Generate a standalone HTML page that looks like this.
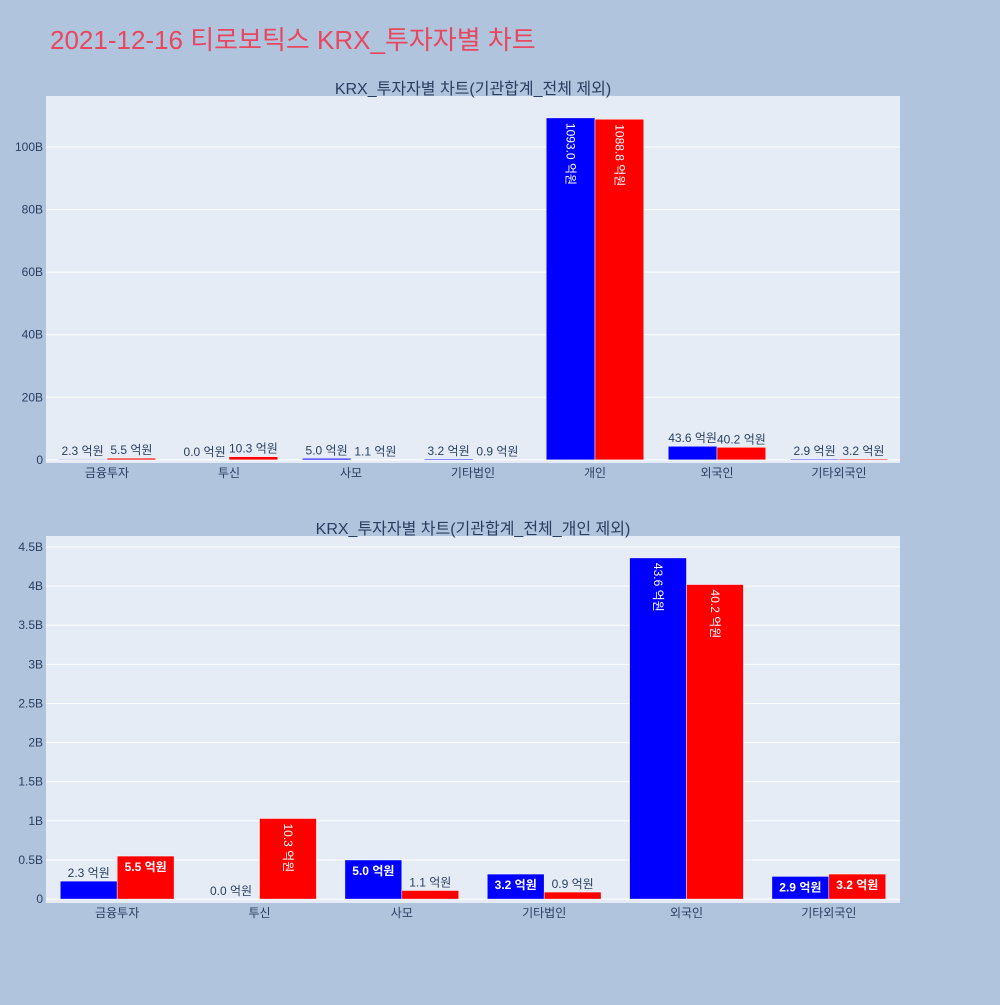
<!DOCTYPE html>
<html><head><meta charset="utf-8"><style>
body{margin:0;background:#b0c4de;}
svg{font-family:"Liberation Sans","Noto Sans CJK KR",sans-serif;}
</style></head><body>
<svg id="c" width="1000" height="1000">
<rect width="1000" height="1000" fill="#b0c4de"/>
<text x="50" y="49" font-size="26" fill="#e8475f">2021-12-16 티로보틱스 KRX_투자자별 차트</text>
</svg>
<script>
const cats1 = ["금융투자","투신","사모","기타법인","개인","외국인","기타외국인"];
const blue1 = [2.3,0,5.0,3.2,1093.0,43.6,2.9];
const red1 = [5.5,10.3,1.1,0.9,1088.8,40.2,3.2];
const ticks1 = [0,20,40,60,80,100];
const tickLabels1 = ["0","20B","40B","60B","80B","100B"];
const cats2 = ["금융투자","투신","사모","기타법인","외국인","기타외국인"];
const blue2 = [2.3,0.0,5.0,3.2,43.6,2.9];
const red2 = [5.5,10.3,1.1,0.9,40.2,3.2];
const ticks2 = [0,0.5,1,1.5,2,2.5,3,3.5,4,4.5];
const tickLabels2 = ["0","0.5B","1B","1.5B","2B","2.5B","3B","3.5B","4B","4.5B"];

const svg=document.getElementById('c');
const NS='http://www.w3.org/2000/svg';
function mk(tag,attrs,txt){const e=document.createElementNS(NS,tag);for(const k in attrs)e.setAttribute(k,attrs[k]);if(txt!==undefined)e.textContent=txt;svg.appendChild(e);return e;}

function chart(o){
  const {x0,x1,y0,y1,vmin,vmax,cats,blue,red,ticks,tickLabels,title,name}=o;
  const bg=mk('rect',{x:x0,y:y0,width:x1-x0,height:y1-y0,fill:'#e5ecf6'});
  
  
  const yS=v=>y1-(v-vmin)/(vmax-vmin)*(y1-y0);
  const step=(x1-x0)/cats.length;
  const xC=i=>x0+step*(i+0.5);
  ticks.forEach((t,i)=>{
    const g=mk('line',{x1:x0,x2:x1,y1:yS(t),y2:yS(t),stroke:'#fff','stroke-width':1});
    
    
    const tl=mk('text',{x:x0-3,y:yS(t)+4,'text-anchor':'end','font-size':12,fill:'#2a3f5f'},tickLabels[i]);
    
    
  });
  const tt=mk('text',{x:(x0+x1)/2,y:y0-2,'text-anchor':'middle','font-size':16,fill:'#2a3f5f'},title);
  
  
  const bw=step*0.4;
  cats.forEach((c,i)=>{
    const cl=mk('text',{x:xC(i),y:y1+14,'text-anchor':'middle','font-size':12,fill:'#2a3f5f'},c);
    
    
    [[blue,'#0000ff',-1],[red,'#ff0000',0]].forEach(([arr,col,off])=>{
      const v=arr[i]/10; // 억원 -> B
      const bx=xC(i)+off*bw;
      const top=yS(v),base=yS(0);
      const r=mk('rect',{x:bx,y:top,width:bw,height:Math.max(0,base-top),fill:col,stroke:'#fff','stroke-width':0.5});
      
      
      const label=arr[i].toFixed(1)+' 억원';
      const h=base-top;
      let t;
      if(h>75){
        t=mk('text',{x:0,y:0,'font-size':12,fill:'#fff',transform:`translate(${bx+bw/2-4},${top+5}) rotate(90)`},label);
      } else if(h>20){
        t=mk('text',{x:bx+bw/2,y:top+15,'text-anchor':'middle','font-size':12,'font-weight':'bold',fill:'#fff'},label);
      } else {
        t=mk('text',{x:bx+bw/2,y:top-4,'text-anchor':'middle','font-size':12,fill:'#2a3f5f'},label);
      }
      
      
    });
  });
}
chart({x0:46,x1:900,y0:96,y1:463,vmin:-1,vmax:116.3,cats:cats1,blue:blue1,red:red1,ticks:ticks1,tickLabels:tickLabels1,title:"KRX_투자자별 차트(기관합계_전체 제외)",name:'chart1'});
chart({x0:46,x1:900,y0:536,y1:903,vmin:-0.05,vmax:4.64,cats:cats2,blue:blue2,red:red2,ticks:ticks2,tickLabels:tickLabels2,title:"KRX_투자자별 차트(기관합계_전체_개인 제외)",name:'chart2'});
</script>
</body></html>
